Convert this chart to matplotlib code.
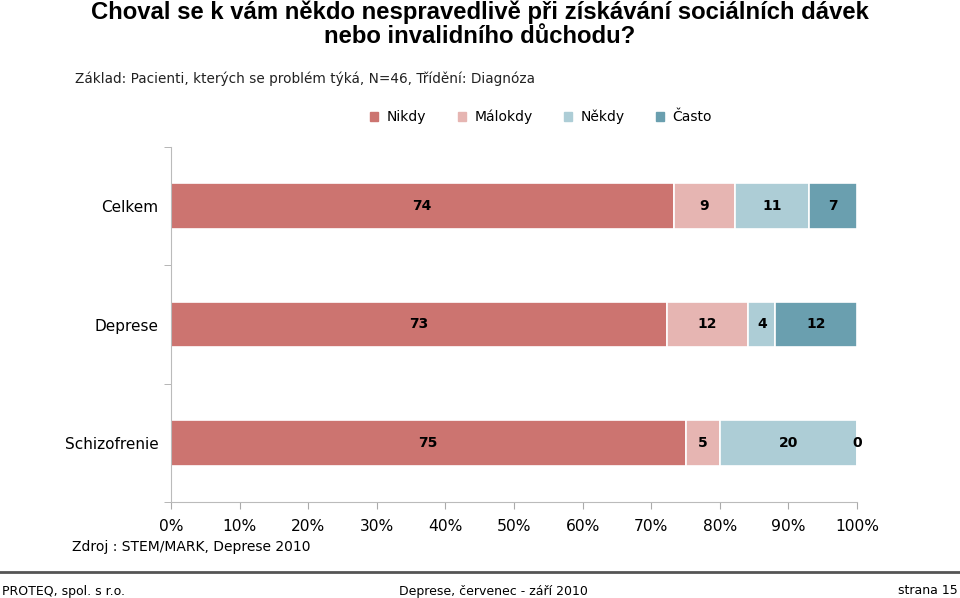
import matplotlib
matplotlib.use("Agg")
import matplotlib.pyplot as plt
import numpy as np

categories = ["Celkem", "Deprese", "Schizofrenie"]
series_names = ["Nikdy", "Málokdy", "Někdy", "Často"]
nikdy = [74, 73, 75]
malokdy = [9, 12, 5]
nekdy = [11, 4, 20]
casto = [7, 12, 0]
colors = ["#CC7470", "#E6B5B2", "#ADCDD6", "#6A9FAF"]
xtick_labels = ["0%", "10%", "20%", "30%", "40%", "50%", "60%", "70%", "80%", "90%", "100%"]

title = "Choval se k vám někdo nespravedlivě při získávání sociálních dávek\nnebo invalidního důchodu?"
subtitle = "Základ: Pacienti, kterých se problém týká, N=46, Třídění: Diagnóza"
source = "Zdroj : STEM/MARK, Deprese 2010"

plt.rcParams['font.family'] = ['DejaVu Sans']

fig = plt.figure(figsize=(9.6, 5.98), dpi=100)
ax = fig.add_axes([171/960, 1-502/598, (857-171)/960, (502-147)/598])

data = np.array([nikdy, malokdy, nekdy, casto], dtype=float)
totals = data.sum(axis=0)
pct = data / totals * 100
y = np.arange(len(categories))
left = np.zeros(len(categories))
for i, name in enumerate(series_names):
    ax.barh(y, pct[i], left=left, height=0.385, color=colors[i],
            edgecolor="white", linewidth=1.2, label=name)
    for j in range(len(categories)):
        ax.text(left[j] + pct[i][j] / 2, y[j], f"{int(data[i][j])}",
                ha="center", va="center", fontsize=10, fontweight="bold", color="black")
    left += pct[i]

ax.set_xlim(0, 100)
ax.set_ylim(2.5, -0.5)
ax.set_yticks(y)
ax.set_yticklabels(categories, fontsize=11)
ax.set_yticks([-0.5, 0.5, 1.5, 2.5], minor=True)
ax.tick_params(axis="y", which="major", length=0, pad=9)
ax.tick_params(axis="y", which="minor", length=5, color="#AAAAAA", direction="out")
ax.set_xticks(np.arange(0, 101, 10))
ax.set_xticklabels(xtick_labels, fontsize=11.2)
ax.tick_params(axis="x", which="major", length=5, color="#AAAAAA", pad=7)
for s in ["top", "right"]:
    ax.spines[s].set_visible(False)
for s in ["left", "bottom"]:
    ax.spines[s].set_color("#BBBBBB")

fig.text(0.5, 1-0/598, title, ha="center", va="top", fontsize=17.2,
         fontweight="bold", family=["Liberation Sans Narrow", "Liberation Sans", "DejaVu Sans"],
         linespacing=1.1)
fig.text(75/960, 1-79/598, subtitle, ha="left", va="center", fontsize=9.8, color="#222222")

handles = [plt.Rectangle((0, 0), 1, 1, color=c) for c in colors]
leg = fig.legend(handles, series_names, loc="center", bbox_to_anchor=(541/960, 1-117/598),
                 ncol=4, frameon=False, fontsize=10, handlelength=0.6, handleheight=0.6,
                 columnspacing=2.25, handletextpad=0.6)

fig.text(72/960, 1-547/598, source, ha="left", va="center", fontsize=10)

fig.add_artist(plt.Line2D([0, 1], [1-572/598, 1-572/598], color="#555555", linewidth=2,
                          transform=fig.transFigure))
fig.text(2/960, 1-591/598, "PROTEQ, spol. s r.o.", ha="left", va="center", fontsize=9)
fig.text(493/960, 1-591/598, "Deprese, červenec - září 2010", ha="center", va="center", fontsize=9)
fig.text(958/960, 1-591/598, "strana 15", ha="right", va="center", fontsize=9)

fig.savefig("out.png", dpi=100)
